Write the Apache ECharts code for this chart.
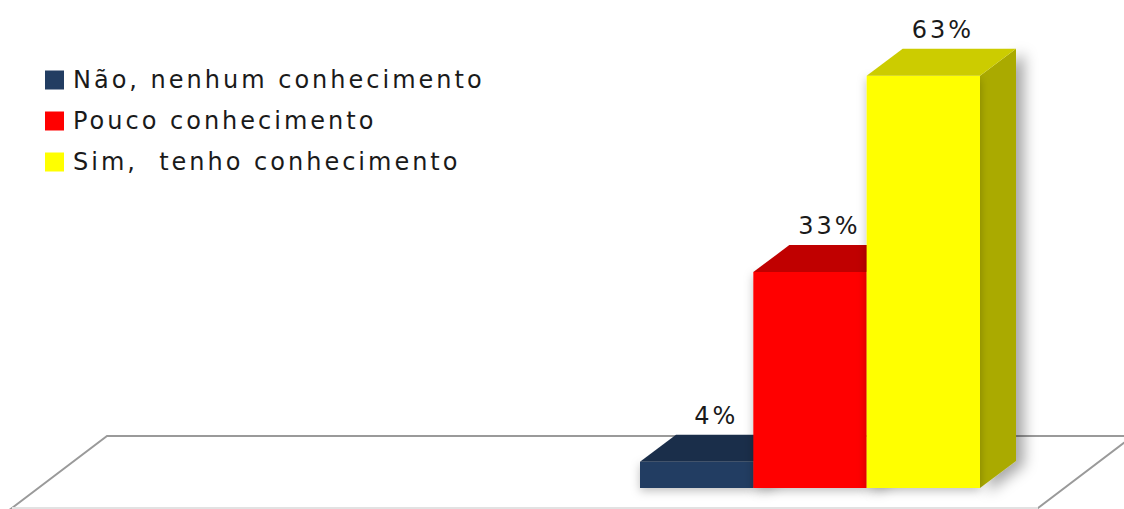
<!DOCTYPE html>
<html>
<head>
<meta charset="utf-8">
<script src="https://cdn.jsdelivr.net/npm/echarts@6/dist/echarts.min.js"></script>
<style>html,body{margin:0;padding:0;background:#fff}#c{width:1124px;height:509px}#c text{letter-spacing:3px}</style>
</head>
<body>
<div id="c"></div>
<script>
const categories = ['Não, nenhum conhecimento', 'Pouco conhecimento', 'Sim,  tenho conhecimento'];
const values = [4, 33, 63];
const frontColors = ['#223D62', '#FF0000', '#FFFF00'];
const topColors = ['#1A2E4A', '#C00000', '#CCCC00'];
const sideColors = ['#16283F', '#A00000', '#AAAA00'];

const DX = 36, DY = 27;

const chart = echarts.init(document.getElementById('c'), null, { renderer: 'svg' });

function makeRender(idx) {
  return function (params, api) {
    const xi = api.value(0), v = api.value(1);
    const top = api.coord([xi, v]);
    const base = api.coord([xi, 0]);
    const w = api.size([1, 0])[0];
    const x0 = top[0] - w / 2, x1 = top[0] + w / 2;
    const yt = top[1], yb = base[1];
    const children = [
      { type: 'polygon', shape: { points: [[x1, yb], [x1, yt], [x1 + DX, yt - DY], [x1 + DX, yb - DY]] },
        style: { fill: sideColors[idx], shadowBlur: 14, shadowColor: 'rgba(0,0,0,0.35)', shadowOffsetX: 8, shadowOffsetY: 4 } },
      { type: 'rect', shape: { x: x0, y: yt, width: w, height: yb - yt },
        style: { fill: frontColors[idx], shadowBlur: 10, shadowColor: 'rgba(0,0,0,0.25)', shadowOffsetY: 3 } },
      { type: 'polygon', shape: { points: [[x0, yt], [x1, yt], [x1 + DX, yt - DY], [x0 + DX, yt - DY]] },
        style: { fill: topColors[idx] } },
      { type: 'text', x: top[0] + DX / 2 + 1.5, y: yt - DY - 7,
        style: { text: v + '%', fill: '#1a1a1a', font: '24px "DejaVu Sans"', align: 'center', verticalAlign: 'bottom' } }
    ];
    return { type: 'group', children: children };
  };
}

const series = categories.map((name, i) => ({
  name: name,
  type: 'custom',
  renderItem: makeRender(i),
  data: [[i, values[i]]],
  itemStyle: { color: frontColors[i] },
  encode: { x: 0, y: 1 },
  z: 5
}));

chart.setOption({
  animation: false,
  color: frontColors,
  grid: { left: 640, width: 340, top: 30, bottom: 21 },
  xAxis: { type: 'category', data: categories, show: false },
  yAxis: { type: 'value', min: 0, max: 70, show: false },
  legend: {
    orient: 'vertical', left: 45, top: 68, padding: 0,
    itemWidth: 19, itemHeight: 19, itemGap: 17,
    icon: 'rect',
    textStyle: { fontFamily: 'DejaVu Sans', fontSize: 24, color: '#1a1a1a', padding: [0, 0, 0, 4] },
    data: categories
  },
  graphic: [
    { type: 'polygon', z: 0, silent: true,
      shape: { points: [[12, 508], [107, 436], [1133, 436], [1038, 508]] },
      style: { fill: '#fff', stroke: '#9a9a9a', lineWidth: 2 } },
    { type: 'line', z: 0, silent: true,
      shape: { x1: 12, y1: 508, x2: 1038, y2: 508 },
      style: { stroke: '#e2e2e2', lineWidth: 2 } }
  ],
  series: series
});
</script>
</body>
</html>
